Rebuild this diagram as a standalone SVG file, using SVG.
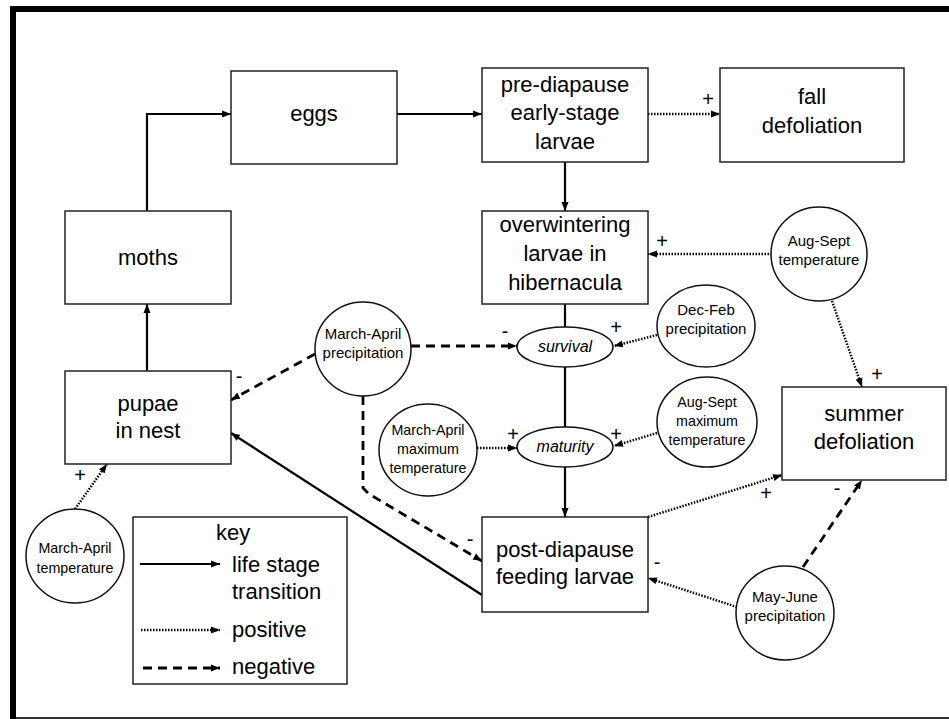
<svg xmlns="http://www.w3.org/2000/svg" width="949" height="719" viewBox="0 0 949 719">
<defs>
<marker id="ah" markerUnits="userSpaceOnUse" markerWidth="10" markerHeight="8" refX="9" refY="4" orient="auto">
<path d="M0,0.5 L9,4 L0,7.5 z" fill="#000"/>
</marker>
<style>
.box{fill:#fff;stroke:#222;stroke-width:1.5}
.circ{fill:#fff;stroke:#111;stroke-width:1.5}
.big{font-family:"Liberation Sans",Arial,sans-serif;font-size:22px;fill:#000;text-anchor:middle}
.sm{font-family:"Liberation Sans",Arial,sans-serif;font-size:15px;fill:#000;text-anchor:middle}
.xs{font-family:"Liberation Sans",Arial,sans-serif;font-size:14.3px;fill:#000;text-anchor:middle}
.it{font-family:"Liberation Sans",Arial,sans-serif;font-size:16px;font-style:italic;fill:#000;text-anchor:middle}
.sign{font-family:"Liberation Sans",Arial,sans-serif;font-size:20px;fill:#000;text-anchor:middle}
.key{font-family:"Liberation Sans",Arial,sans-serif;font-size:22px;fill:#000}
.solid{fill:none;stroke:#000;stroke-width:2.2}
.dot{fill:none;stroke:#000;stroke-width:2.5;stroke-dasharray:1.5 1.5}
.dash{fill:none;stroke:#000;stroke-width:2.8;stroke-dasharray:9 6}
</style>
</defs>
<rect width="949" height="719" fill="#fff"/>
<g id="frame">
<line x1="10" y1="9" x2="949" y2="9" stroke="#000" stroke-width="6"/>
<line x1="13" y1="6" x2="13" y2="719" stroke="#000" stroke-width="6"/>
<line x1="16" y1="718" x2="949" y2="718" stroke="#333" stroke-width="2"/>
</g>
<g id="connectors">
<path class="solid" d="M147,211 V114 H231" marker-end="url(#ah)"/>
<path class="solid" d="M397,114 H482" marker-end="url(#ah)"/>
<path class="solid" d="M565,162 V211" marker-end="url(#ah)"/>
<path class="solid" d="M565,304 V327"/>
<path class="solid" d="M565,367 V428"/>
<path class="solid" d="M565,467 V517" marker-end="url(#ah)"/>
<path class="solid" d="M147,371 V304" marker-end="url(#ah)"/>
<path class="solid" d="M482,595 L231,433" marker-end="url(#ah)"/>
<path class="dot" d="M648,114 H720" marker-end="url(#ah)"/>
<path class="dot" d="M772,254 H648" marker-end="url(#ah)"/>
<path class="dot" d="M832,301 L862,387" marker-end="url(#ah)"/>
<path class="dot" d="M657,335 L614,346" marker-end="url(#ah)"/>
<path class="dot" d="M657,433 L614,446" marker-end="url(#ah)"/>
<path class="dot" d="M477,448 H517" marker-end="url(#ah)"/>
<path class="dot" d="M75,509 L107,464" marker-end="url(#ah)"/>
<path class="dot" d="M648,517 L782,475" marker-end="url(#ah)"/>
<path class="dot" d="M737,607 L648,578" marker-end="url(#ah)"/>
<path class="dash" d="M411,346 H517" marker-end="url(#ah)"/>
<path class="dash" d="M315,354 L231,400" marker-end="url(#ah)"/>
<path class="dash" d="M363,396 V488 L369,494 L482,561" marker-end="url(#ah)"/>
<path class="dash" d="M803,567 L862,480" marker-end="url(#ah)"/>
<text class="sign" x="708" y="106">+</text>
<text class="sign" x="662" y="248">+</text>
<text class="sign" x="877" y="381">+</text>
<text class="sign" x="505" y="338">-</text>
<text class="sign" x="616" y="334">+</text>
<text class="sign" x="616" y="441">+</text>
<text class="sign" x="513" y="441">+</text>
<text class="sign" x="239" y="383">-</text>
<text class="sign" x="80" y="482">+</text>
<text class="sign" x="470" y="546">-</text>
<text class="sign" x="766" y="500">+</text>
<text class="sign" x="657" y="569">-</text>
<text class="sign" x="837" y="495">-</text>
</g>
<g id="eggs">
<rect class="box" x="231" y="71" width="166" height="93"/>
<text class="big" x="314" y="121">eggs</text>
</g>
<g id="moths">
<rect class="box" x="65" y="211" width="166" height="93"/>
<text class="big" x="148" y="265">moths</text>
</g>
<g id="pre-diapause">
<rect class="box" x="482" y="68" width="166" height="94"/>
<text class="big" x="565" y="92">pre-diapause</text>
<text class="big" x="565" y="120">early-stage</text>
<text class="big" x="565" y="149">larvae</text>
</g>
<g id="fall-defoliation">
<rect class="box" x="720" y="68" width="184" height="94"/>
<text class="big" x="812" y="104">fall</text>
<text class="big" x="812" y="133">defoliation</text>
</g>
<g id="overwintering">
<rect class="box" x="482" y="211" width="166" height="93"/>
<text class="big" x="565" y="232">overwintering</text>
<text class="big" x="565" y="261">larvae in</text>
<text class="big" x="565" y="290">hibernacula</text>
</g>
<g id="pupae">
<rect class="box" x="65" y="371" width="166" height="93"/>
<text class="big" x="148" y="411">pupae</text>
<text class="big" x="148" y="438">in nest</text>
</g>
<g id="summer-defoliation">
<rect class="box" x="782" y="387" width="164" height="93"/>
<text class="big" x="864" y="421">summer</text>
<text class="big" x="864" y="449">defoliation</text>
</g>
<g id="post-diapause">
<rect class="box" x="482" y="517" width="166" height="95"/>
<text class="big" x="565" y="557">post-diapause</text>
<text class="big" x="565" y="584">feeding larvae</text>
</g>
<g id="survival">
<ellipse class="circ" cx="565" cy="347" rx="48" ry="20"/>
<text class="it" x="565" y="352">survival</text>
</g>
<g id="maturity">
<ellipse class="circ" cx="565" cy="447" rx="48" ry="20"/>
<text class="it" x="565" y="452">maturity</text>
</g>
<g id="aug-sept-temperature">
<ellipse class="circ" cx="819" cy="254" rx="48" ry="47"/>
<text class="sm" x="819" y="246">Aug-Sept</text>
<text class="sm" x="819" y="265">temperature</text>
</g>
<g id="march-april-precipitation">
<ellipse class="circ" cx="363" cy="349" rx="48" ry="47"/>
<text class="sm" x="363" y="339">March-April</text>
<text class="sm" x="363" y="358">precipitation</text>
</g>
<g id="dec-feb-precipitation">
<ellipse class="circ" cx="706" cy="326" rx="49" ry="41"/>
<text class="sm" x="706" y="315">Dec-Feb</text>
<text class="sm" x="706" y="334">precipitation</text>
</g>
<g id="aug-sept-max-temperature">
<ellipse class="circ" cx="707" cy="422" rx="50" ry="45"/>
<text class="xs" x="707" y="407">Aug-Sept</text>
<text class="xs" x="707" y="426">maximum</text>
<text class="xs" x="707" y="445">temperature</text>
</g>
<g id="march-april-max-temperature">
<ellipse class="circ" cx="428" cy="450" rx="49" ry="46"/>
<text class="xs" x="428" y="435">March-April</text>
<text class="xs" x="428" y="454">maximum</text>
<text class="xs" x="428" y="473">temperature</text>
</g>
<g id="march-april-temperature">
<ellipse class="circ" cx="75" cy="556" rx="49" ry="47"/>
<text class="xs" x="75" y="553">March-April</text>
<text class="xs" x="75" y="573">temperature</text>
</g>
<g id="may-june-precipitation">
<ellipse class="circ" cx="785" cy="613" rx="49" ry="47"/>
<text class="sm" x="785" y="602">May-June</text>
<text class="sm" x="785" y="621">precipitation</text>
</g>
<g id="key">
<rect class="box" x="133" y="517" width="214" height="167"/>
<text class="key" x="216" y="540">key</text>
<path class="solid" d="M140,564 H220" marker-end="url(#ah)"/>
<text class="key" x="232" y="572">life stage</text>
<text class="key" x="232" y="599">transition</text>
<path class="dot" d="M141,630 H220" marker-end="url(#ah)"/>
<text class="key" x="232" y="637">positive</text>
<path class="dash" d="M143,668 H220" marker-end="url(#ah)"/>
<text class="key" x="232" y="674">negative</text>
</g>
</svg>
